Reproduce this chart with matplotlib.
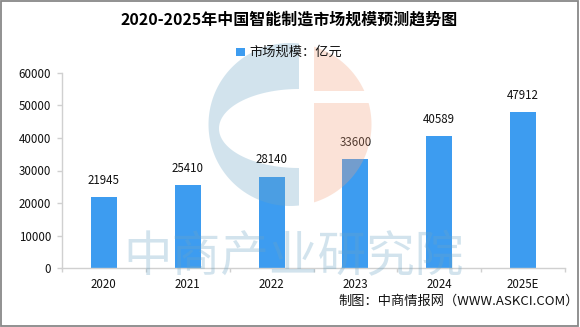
import matplotlib
matplotlib.use("Agg")
import matplotlib.pyplot as plt
from matplotlib.patches import Rectangle, Polygon
import numpy as np

plt.rcParams['font.family'] = ['Noto Sans CJK SC', 'DejaVu Sans']

# Data
years = ['2020', '2021', '2022', '2023', '2024', '2025E']
market_size = [21945, 25410, 28140, 33600, 40589, 47912]
y_ticks = [0, 10000, 20000, 30000, 40000, 50000, 60000]

title = '2020-2025年中国智能制造市场规模预测趋势图'
legend_label = '市场规模：亿元'
source = '制图：中商情报网（WWW.ASKCI.COM）'
watermark = '中商产业研究院'

W, H = 580, 327
fig = plt.figure(figsize=(W / 100, H / 100), dpi=100)

# Plot area (pixel-based placement)
ax_left, ax_right, ax_top, ax_bottom = 62, 565, 72.7, 268.3
ax = fig.add_axes([ax_left / W, 1 - ax_bottom / H,
                   (ax_right - ax_left) / W, (ax_bottom - ax_top) / H])

bar_color = '#3d9cf0'
x = np.arange(len(years))
ax.bar(x, market_size, width=0.31, color=bar_color, zorder=2)
ax.set_xlim(-0.5, len(years) - 0.5)
ax.set_ylim(0, 60000)
ax.set_yticks(y_ticks)
ax.set_yticklabels([str(v) for v in y_ticks])
ax.set_xticks(x)
ax.set_xticklabels(years)
ax.set_xticks(np.arange(-0.5, len(years)), minor=True)
ax.tick_params(axis='x', which='major', length=0, pad=7, labelsize=8.3, labelcolor='#111111')
ax.tick_params(axis='x', which='minor', length=3, color='#d0d0d0', width=1)
ax.tick_params(axis='y', length=3.6, color='#d0d0d0', width=1, pad=4.3,
               labelsize=8.3, labelcolor='#111111')
for s in ['top', 'right']:
    ax.spines[s].set_visible(False)
for s in ['left', 'bottom']:
    ax.spines[s].set_color('#d0d0d0')
    ax.spines[s].set_linewidth(1)

for xi, v in zip(x, market_size):
    ax.annotate(f'{v}', (xi, v), xytext=(0, 12), textcoords='offset points',
                ha='center', va='center', fontsize=8.3, color='#111111')

# Overlay in pixel coordinates: watermark, title, legend, source, border
ov = fig.add_axes([0, 0, 1, 1], zorder=5)
ov.set_xlim(0, W)
ov.set_ylim(H, 0)
ov.axis('off')

wm_alpha = 0.3
wm_blue = '#6ca5c6'
wm_peach = '#f2a27d'

cx, cy, r = 290, 124.5, 81.5
# Left "C" part of the logo
xr = 299
t0 = np.degrees(np.arccos((xr - cx) / r))
th = np.radians(np.linspace(t0, 360 - t0, 120))
outer = np.column_stack([cx + r * np.cos(th), cy - r * np.sin(th)])
ex, ey, ea, eb = 299, 128.5, 80, 39.5
ph = np.radians(np.linspace(270, 90, 100))
inner = np.column_stack([ex + ea * np.cos(ph), ey - eb * np.sin(ph)])
c_shape = np.vstack([outer, inner])
ov.add_patch(Polygon(c_shape, closed=True, fc=wm_blue, ec='none', alpha=wm_alpha))

# Right half of the logo, split by a horizontal gap
xl = 314
ta = np.degrees(np.arccos((xl - cx) / r))
tb = np.degrees(np.arcsin((cy - 91) / r))
tc = np.degrees(np.arcsin((cy - 103) / r))
th_top = np.radians(np.linspace(ta, tb, 60))
top_piece = np.vstack([[[xl, 91]],
                       np.column_stack([cx + r * np.cos(th_top), cy - r * np.sin(th_top)])])
th_bot = np.radians(np.linspace(tc, -ta, 100))
bot_piece = np.vstack([[[xl, 103]],
                       np.column_stack([cx + r * np.cos(th_bot), cy - r * np.sin(th_bot)])])
for piece in (top_piece, bot_piece):
    ov.add_patch(Polygon(piece, closed=True, fc=wm_peach, ec='none', alpha=wm_alpha))

ov.text(294, 257, watermark, ha='center', va='center', fontsize=35,
        color=wm_blue, alpha=wm_alpha)

# Title
ov.text(289, 20, title, ha='center', va='center', fontsize=11.5,
        fontweight='bold', color='#000000')

# Legend
ov.add_patch(Rectangle((236, 47.5), 8.5, 8.5, fc=bar_color, ec='none'))
ov.text(249, 52, legend_label, ha='left', va='center', fontsize=9.5, color='#111111')

# Source note
ov.text(579, 301.5, source, ha='right', va='center', fontsize=9.5, color='#111111')

# Frame
ov.add_patch(Rectangle((1, 1), 576.5, 324.5, fill=False, ec='#888888', lw=1.3))

fig.savefig('out.png', dpi=100)
